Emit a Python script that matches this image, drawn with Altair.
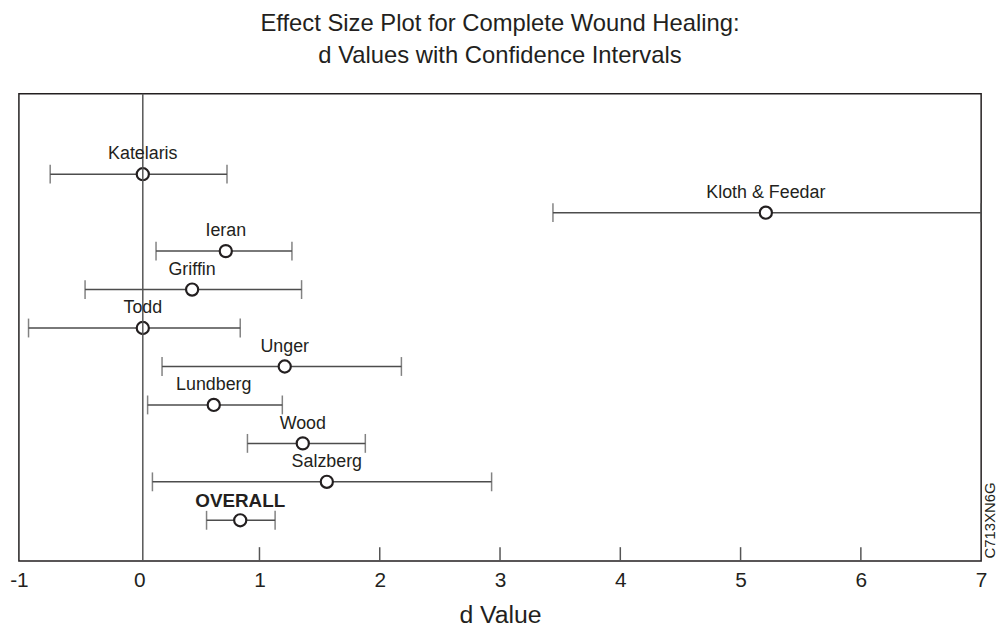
import altair as alt
import pandas as pd

# ---- data ----
studies = ["Katelaris", "Kloth & Feedar", "Ieran", "Griffin", "Todd",
           "Unger", "Lundberg", "Wood", "Salzberg", "OVERALL"]
d_values = [0.03, 5.21, 0.72, 0.44, 0.03, 1.21, 0.62, 1.36, 1.56, 0.84]
ci_low = [-0.74, 3.44, 0.14, -0.45, -0.92, 0.19, 0.07, 0.90, 0.11, 0.56]
ci_high = [0.73, 7.00, 1.27, 1.35, 0.84, 2.18, 1.19, 1.88, 2.93, 1.13]
x_ticks = [-1, 0, 1, 2, 3, 4, 5, 6, 7]
inner_ticks = [1, 2, 3, 4, 5, 6]
zero_line = 0.03
code_label = "C713XN6G"

df = pd.DataFrame({
    "study": studies,
    "d": d_values,
    "lo": ci_low,
    "hi": ci_high,
    "row": list(range(len(studies))),
})
df_studies = df[df["study"] != "OVERALL"]
df_overall = df[df["study"] == "OVERALL"]

W, H = 970, 471
INK = "#231f20"
LINE = "#4d4d4d"
FONT = "Liberation Sans"

xscale = alt.Scale(domain=[-1, 7], nice=False, zero=False)
yscale = alt.Scale(domain=[-2.09, 10.06], reverse=True, nice=False, zero=False)

x_axis = alt.Axis(values=x_ticks, title="d Value", grid=False, ticks=False, domain=False,
                  labelFlush=False, labelExpr="'' + datum.value",
                  labelFontSize=21, labelFont=FONT, labelColor=INK, labelPadding=9,
                  titleFontSize=25, titleFont=FONT, titleFontWeight="normal",
                  titleColor=INK, titlePadding=12)

base = alt.Chart(df)

zero = alt.Chart(pd.DataFrame({"z": [zero_line]})).mark_rule(
    color="#555555", strokeWidth=1.5).encode(
    x=alt.X("z:Q", scale=xscale, axis=x_axis))

bars = base.mark_rule(color=LINE, strokeWidth=1.5).encode(
    x=alt.X("lo:Q", scale=xscale),
    x2="hi:Q",
    y=alt.Y("row:Q", scale=yscale, axis=None))

cap_lo = base.mark_tick(orient="vertical", color=LINE, thickness=1.5, size=19).encode(
    x=alt.X("lo:Q", scale=xscale), y=alt.Y("row:Q", scale=yscale, axis=None))
cap_hi = base.mark_tick(orient="vertical", color=LINE, thickness=1.5, size=19).encode(
    x=alt.X("hi:Q", scale=xscale), y=alt.Y("row:Q", scale=yscale, axis=None))

points = base.mark_point(shape="circle", filled=True, fill="white", fillOpacity=1,
                         stroke=INK, strokeWidth=2.2, opacity=1, size=150).encode(
    x=alt.X("d:Q", scale=xscale), y=alt.Y("row:Q", scale=yscale, axis=None))

labels = alt.Chart(df_studies).mark_text(
    font=FONT, fontSize=18, color=INK, align="center", baseline="alphabetic", dy=-15).encode(
    x=alt.X("d:Q", scale=xscale), y=alt.Y("row:Q", scale=yscale, axis=None), text="study:N")

overall_label = alt.Chart(df_overall).mark_text(
    font=FONT, fontSize=19, fontWeight="bold", color=INK, align="center",
    baseline="alphabetic", dy=-13).encode(
    x=alt.X("d:Q", scale=xscale), y=alt.Y("row:Q", scale=yscale, axis=None), text="study:N")

ticks = alt.Chart(pd.DataFrame({"t": inner_ticks})).mark_rule(
    color="#555555", strokeWidth=1.5).encode(
    x=alt.X("t:Q", scale=xscale), y=alt.value(H), y2=alt.value(H - 14))

code = alt.Chart(pd.DataFrame({"c": [code_label]})).mark_text(
    font=FONT, fontSize=15, color=INK, angle=270, align="center", baseline="middle").encode(
    x=alt.value(W + 9), y=alt.value(H - 41), text="c:N")

chart = alt.layer(bars, cap_lo, cap_hi, points, zero, labels, overall_label, ticks, code).properties(
    width=W, height=H,
    title=alt.TitleParams(
        text=["Effect Size Plot for Complete Wound Healing:",
              "d Values with Confidence Intervals"],
        font=FONT, fontSize=24, fontWeight="normal", color=INK,
        anchor="middle", lineHeight=33, offset=25),
    autosize=alt.AutoSizeParams(type="none"),
    padding={"left": 11, "top": 84, "right": 18, "bottom": 70},
).configure_view(stroke=INK, strokeWidth=1.5)

chart.save("out.html", embed_options={"renderer": "svg", "actions": False})
